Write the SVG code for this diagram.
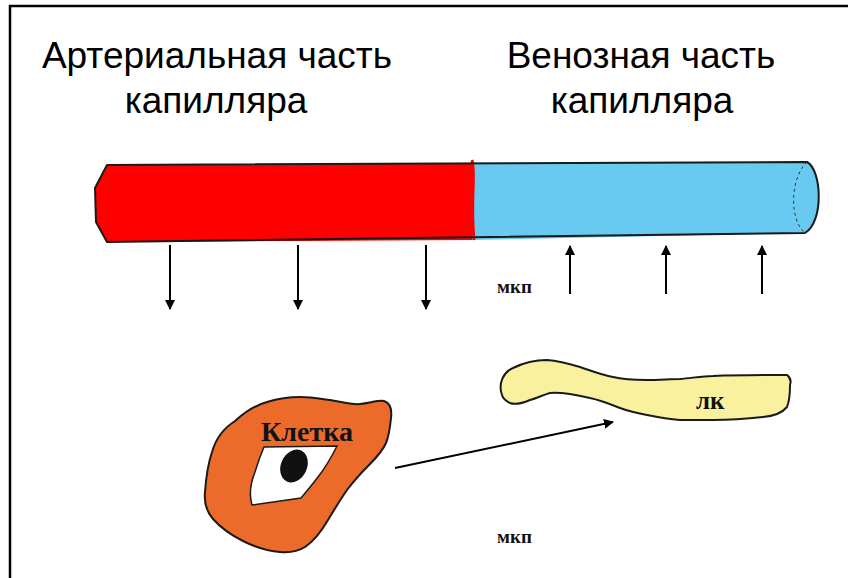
<svg xmlns="http://www.w3.org/2000/svg" width="848" height="578" viewBox="0 0 848 578">
  <style>
    .title { font-family: "Liberation Sans", Arial, sans-serif; font-size: 37px; fill: #000; text-anchor: middle; }
    .lbl { font-family: "Liberation Serif", "Times New Roman", serif; font-weight: bold; fill: #111; }
    .edge { fill: none; stroke: #1a1a1a; stroke-width: 2; stroke-linejoin: round; }
    .flow { stroke: #000; stroke-width: 2; fill: none; }
  </style>
  <defs>
    <marker id="head" viewBox="0 0 10 10" refX="9" refY="5" markerWidth="5" markerHeight="5" orient="auto" markerUnits="strokeWidth">
      <path d="M0,0 L10,5 L0,10 Z" fill="#000"/>
    </marker>
  </defs>

  <rect width="848" height="578" fill="#fff"/>
  <!-- frame: top and left rules -->
  <path d="M10,578 V6 H848" fill="none" stroke="#000" stroke-width="2.5"/>

  <!-- headings -->
  <g id="heading-arterial">
    <text class="title" x="217" y="68">Артериальная часть</text>
    <text class="title" x="216" y="113">капилляра</text>
  </g>
  <g id="heading-venous">
    <text class="title" x="641" y="68">Венозная часть</text>
    <text class="title" x="642" y="113">капилляра</text>
  </g>

  <!-- capillary tube -->
  <g id="capillary">
    <path d="M107,165 L473,163 L473,240 L107,242 L96,222 L95,188 Z" fill="#fe0000"/>
    <path d="M472,163 L807,162 C822,170 824,222 805,233 L472,240 Z" fill="#68caf1"/>
    <path d="M472,160 C476,175 470,200 474,240" fill="none" stroke="#fe0000" stroke-width="3"/>
    <path class="edge" d="M107,165 L807,162 C822,170 824,222 805,233 L107,242 L96,222 L95,188 Z"/>
    <path d="M807,162 C790,178 789,220 805,233" fill="none" stroke="#333" stroke-width="1" stroke-dasharray="3,3"/>
  </g>

  <!-- filtration / reabsorption arrows -->
  <g id="connectors">
    <line class="flow" x1="170" y1="245" x2="170" y2="309" marker-end="url(#head)"/>
    <line class="flow" x1="298" y1="245" x2="298" y2="309" marker-end="url(#head)"/>
    <line class="flow" x1="426" y1="245" x2="426" y2="309" marker-end="url(#head)"/>
    <line class="flow" x1="570" y1="294" x2="570" y2="246" marker-end="url(#head)"/>
    <line class="flow" x1="666" y1="294" x2="666" y2="246" marker-end="url(#head)"/>
    <line class="flow" x1="762" y1="294" x2="762" y2="246" marker-end="url(#head)"/>
    <line class="flow" x1="395" y1="468" x2="613" y2="422" marker-end="url(#head)"/>
  </g>

  <!-- interstitial space labels -->
  <g id="label-mkp-top">
    <text class="lbl" x="497" y="293" font-size="19">мкп</text>
  </g>
  <g id="label-mkp-bottom">
    <text class="lbl" x="497" y="543" font-size="19">мкп</text>
  </g>

  <!-- cell -->
  <g id="cell">
    <path d="M212,452 C216,438 224,428 235,421 C246,411 256,405 267,402 C280,398 290,397 300,397 C312,397 322,399 330,400 C342,402 352,405 360,404 C370,403 378,400 384,401 C390,403 392,410 391,418 C390,428 389,436 386,443 C382,452 376,458 370,464 C360,474 353,482 347,490 C340,500 334,510 328,520 C321,532 314,541 305,547 C297,552 290,553 280,552 C268,551 255,547 243,541 C231,535 221,528 213,519 C206,511 204,502 205,492 C206,478 208,464 212,452 Z" fill="#ec6a2a" stroke="#1a1a1a" stroke-width="2"/>
    <path d="M264,447 L337,446 C331,458 325,468 318,477 C312,485 306,492 301,498 L252,505 C249,495 251,482 255,472 C258,462 261,454 264,447 Z" fill="#fff" stroke="#1a1a1a" stroke-width="1.5"/>
    <ellipse cx="294" cy="466" rx="13" ry="17" transform="rotate(25 294 466)" fill="#111"/>
    <text class="lbl" x="261" y="441" font-size="28">Клетка</text>
  </g>

  <!-- lymphatic capillary -->
  <g id="lymph">
    <path d="M502,395 C498,384 503,372 513,368 C525,362 537,360 547,360 C560,361 570,364 580,367 C592,371 602,375 613,377 C625,380 636,380 647,380 C660,380 670,379 680,379 C692,378 703,376 713,376 C740,375 765,375 787,375 C791,378 791,382 790,385 C790,395 789,402 787,407 C782,413 775,416 763,417 C745,419 728,420 713,420 C700,420 690,420 680,420 C668,419 657,417 647,415 C637,413 628,411 620,408 C610,404 600,400 590,398 C577,395 563,392 550,393 C543,395 537,398 530,400 C523,403 515,405 510,403 C506,401 503,399 502,395 Z" fill="#faf19e" stroke="#1a1a1a" stroke-width="2"/>
    <text class="lbl" x="696" y="409" font-size="25">лк</text>
  </g>
</svg>
